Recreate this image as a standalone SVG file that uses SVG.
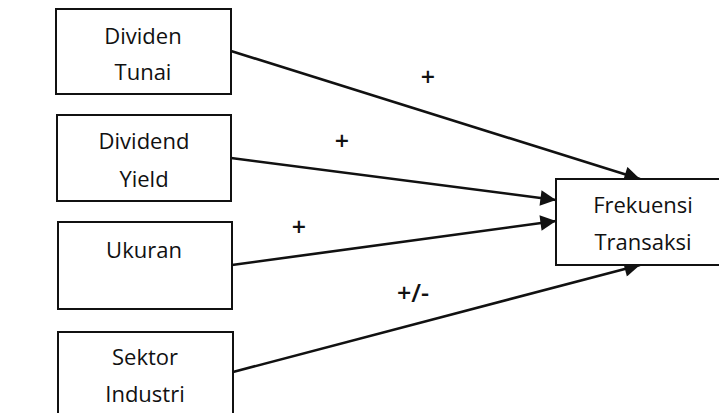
<svg xmlns="http://www.w3.org/2000/svg" width="719" height="413" viewBox="0 0 719 413">
<style>
.box{fill:#fff;stroke:#111;stroke-width:2}
.t{font-family:"Open Sans","Noto Sans",sans-serif;font-size:22px;fill:#111;text-anchor:middle}
.s{font-family:"Open Sans","Noto Sans",sans-serif;font-size:25px;font-weight:600;fill:#111;text-anchor:middle}
.c{stroke:#111;stroke-width:2.6;fill:none;marker-end:url(#ah)}
</style>
<defs>
<marker id="ah" viewBox="0 0 10 10" refX="10" refY="5" markerWidth="7.5" markerHeight="6" markerUnits="strokeWidth" orient="auto">
<path d="M0,0 L10,5 L0,10 z" fill="#111"/>
</marker>
</defs>
<rect width="719" height="413" fill="#fff"/>
<g id="connectors">
<line class="c" x1="231" y1="51" x2="640" y2="179"/>
<line class="c" x1="231" y1="158" x2="556" y2="200"/>
<line class="c" x1="232" y1="265" x2="556" y2="221"/>
<line class="c" x1="233" y1="372" x2="640" y2="265"/>
<text class="s" x="428" y="86">+</text>
<text class="s" x="342" y="150">+</text>
<text class="s" x="299" y="236">+</text>
<text class="s" x="413" y="302">+/-</text>
</g>
<g id="dividen-tunai">
<rect class="box" x="56" y="9" width="175" height="85"/>
<text class="t" x="143" y="44">Dividen</text>
<text class="t" x="143" y="80">Tunai</text>
</g>
<g id="dividend-yield">
<rect class="box" x="57" y="115" width="174" height="86"/>
<text class="t" x="144" y="149">Dividend</text>
<text class="t" x="144" y="187">Yield</text>
</g>
<g id="ukuran">
<rect class="box" x="58" y="222" width="174" height="87"/>
<text class="t" x="144" y="258">Ukuran</text>
</g>
<g id="sektor-industri">
<rect class="box" x="58" y="332" width="175" height="100"/>
<text class="t" x="145" y="365">Sektor</text>
<text class="t" x="145" y="402">Industri</text>
</g>
<g id="frekuensi-transaksi">
<rect class="box" x="556" y="179" width="200" height="86"/>
<text class="t" x="643" y="213">Frekuensi</text>
<text class="t" x="643" y="250">Transaksi</text>
</g>
</svg>
